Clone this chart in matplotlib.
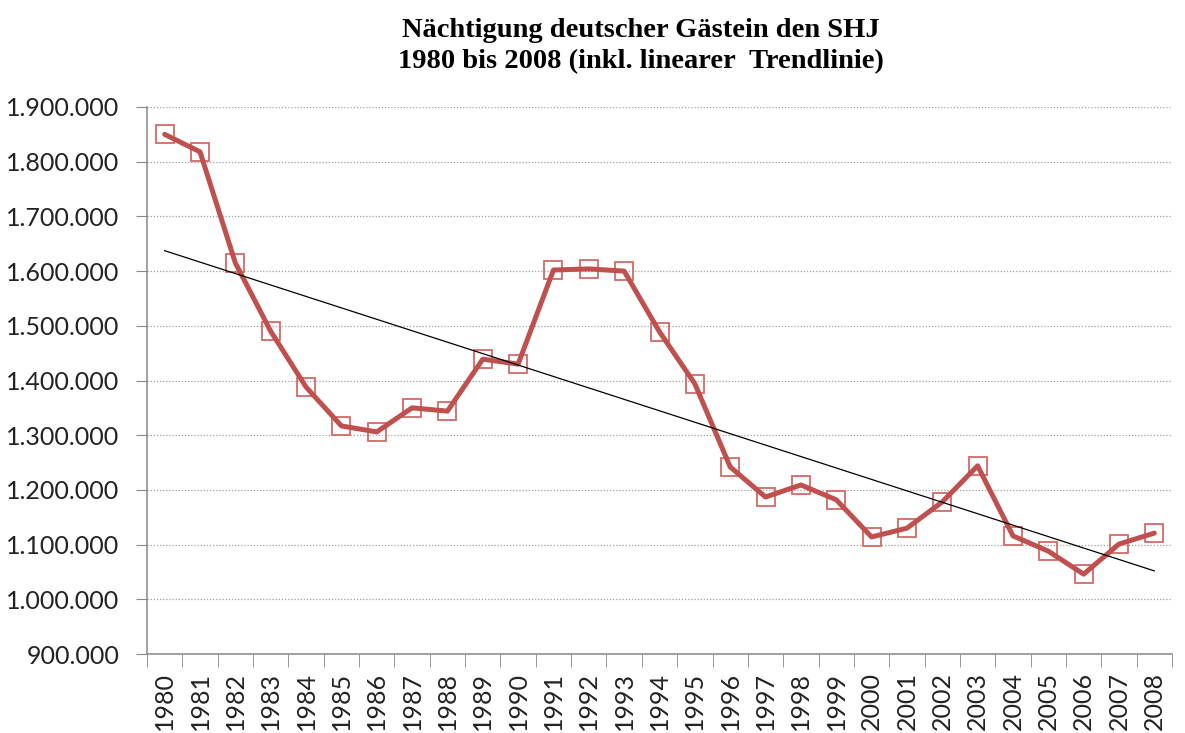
import numpy as np
import matplotlib.pyplot as plt
from matplotlib.ticker import FuncFormatter

# Nächtigungen deutscher Gäste
years = [str(y) for y in range(1980, 2009)]
naechtigungen = [1850000, 1818000, 1615000, 1490000, 1388000, 1317000, 1306000,
                 1350000, 1344000, 1439000, 1430000, 1602000, 1604000, 1600000,
                 1489000, 1394000, 1242000, 1187000, 1209000, 1182000, 1114000,
                 1130000, 1178000, 1244000, 1116000, 1088000, 1046000, 1101000,
                 1121000]
y_ticks = list(range(900000, 1900001, 100000))

x = np.arange(len(years))
y = np.array(naechtigungen)

# linear trend line (like Excel)
k, d = np.polyfit(x, y, 1)
trend = k * x + d

fig = plt.figure(figsize=(11.85, 7.33), dpi=100)
ax = fig.add_axes([147 / 1185, 1 - 654 / 733, (1172 - 147) / 1185, (654 - 107) / 733])

ax.plot(x, y, linestyle='none', marker='s', markersize=13.5, markerfacecolor='none',
        markeredgecolor='#D46A68', markeredgewidth=1.3, zorder=3)
ax.plot(x, y, color='#C0504D', linewidth=3.6, solid_capstyle='round', zorder=4)
ax.plot(x, trend, color='black', linewidth=0.9, zorder=5)

ax.set_xlim(-0.5, len(years) - 0.5)
ax.set_ylim(900000, 1900000)

ax.set_yticks(y_ticks)
ax.yaxis.set_major_formatter(FuncFormatter(lambda v, p: f'{int(v):,}'.replace(',', '.')))
ax.grid(axis='y', color='#A0A0A0', linestyle=(0, (1, 1.5)), linewidth=0.9)
ax.set_axisbelow(True)

ax.set_xticks(x)
ax.set_xticklabels(years, rotation=90)
ax.set_xticks(np.arange(-0.5, len(years)), minor=True)
ax.tick_params(axis='x', which='major', length=0, pad=13)
ax.tick_params(axis='x', which='minor', length=9, color='#888888', direction='out')
ax.tick_params(axis='y', length=8, color='#888888', direction='out', pad=12)

for lab in ax.get_xticklabels() + ax.get_yticklabels():
    lab.set_fontfamily('Lato')
    lab.set_fontsize(18)
    lab.set_color('#222222')

for s in ['top', 'right']:
    ax.spines[s].set_visible(False)
for s in ['left', 'bottom']:
    ax.spines[s].set_color('#888888')
    ax.spines[s].set_linewidth(1.1)

fig.text(0.541, 0.975, 'Nächtigung deutscher Gästein den SHJ\n1980 bis 2008 (inkl. linearer  Trendlinie)',
         ha='center', va='top', fontsize=20.5, fontweight='bold',
         family='Liberation Serif', linespacing=1.3)

fig.savefig('out.png', dpi=100)
